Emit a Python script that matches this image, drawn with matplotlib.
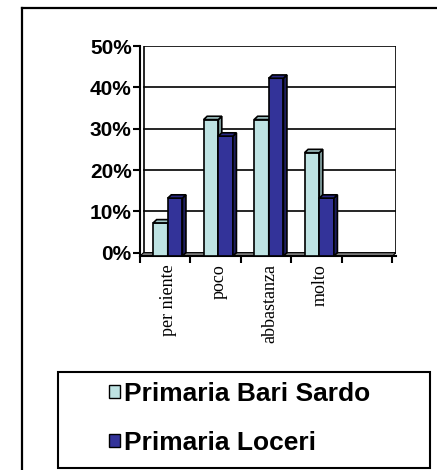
import numpy as np
import matplotlib
matplotlib.use('Agg')
import matplotlib.pyplot as plt
from matplotlib.patches import Polygon, Rectangle, Patch
from matplotlib.lines import Line2D

# dati
categorie = ['per niente', 'poco', 'abbastanza', 'molto', '']
bari_sardo = [0.08, 0.33, 0.33, 0.25, 0.0]
loceri = [0.14, 0.29, 0.43, 0.14, 0.0]
serie = ['Primaria Bari Sardo', 'Primaria Loceri']
y_ticks = [0.0, 0.1, 0.2, 0.3, 0.4, 0.5]

col_front = ['#BEE3E3', '#333399']
col_side = ['#7E9B9B', '#1E1E5E']
col_top = ['#A4C8C8', '#2A2A85']

# profondita' finta 3D
dx = 0.07
dy = 0.008
w = 0.29

fig = plt.figure(figsize=(4.37, 4.70), dpi=100)
ax = fig.add_axes([140/437, 1-256/470, 256/437, 210/470])

# parete di fondo e griglia
ax.add_patch(Rectangle((-0.5, 0), 5, 0.5, fill=False, ec='black', lw=1.2, zorder=1))
for t in y_ticks[1:-1]:
    ax.plot([-0.5, 4.5], [t, t], color='black', lw=1.2, zorder=1)
# pavimento
ax.add_patch(Polygon([(-0.5-dx, -dy), (4.5-dx, -dy), (4.5, 0), (-0.5, 0)],
                     closed=True, fc='#808080', ec='black', lw=0.8, zorder=2))

x = np.arange(len(categorie))
offs = [-0.31, -0.02]
for k, vals in enumerate([bari_sardo, loceri]):
    for i, v in enumerate(vals):
        if v <= 0:
            continue
        x0 = x[i] + offs[k]
        ax.bar(x0, v, width=w, bottom=-dy, align='edge', color=col_front[k],
               edgecolor='black', linewidth=1.2, zorder=3)
        side = [(x0+w, -dy), (x0+w+dx, 0), (x0+w+dx, v), (x0+w, v-dy)]
        top = [(x0, v-dy), (x0+dx, v), (x0+w+dx, v), (x0+w, v-dy)]
        ax.add_patch(Polygon(side, closed=True, fc=col_side[k], ec='black', lw=1.2, zorder=3))
        ax.add_patch(Polygon(top, closed=True, fc=col_top[k], ec='black', lw=1.2, zorder=3))

ax.set_xlim(-0.5-dx, 4.5)
ax.set_ylim(-dy, 0.5)
for s in ['top', 'right']:
    ax.spines[s].set_visible(False)
ax.spines['left'].set_position(('data', -0.5-dx))
ax.spines['left'].set_linewidth(1.5)
ax.spines['bottom'].set_linewidth(1.5)

ax.set_yticks(y_ticks)
ax.set_yticklabels(['%d%%' % round(t*100) for t in y_ticks],
                   fontsize=15, fontweight='bold', family='Liberation Sans')
ax.tick_params(axis='y', direction='out', length=5, width=1.5, pad=1)

ax.set_xticks(np.arange(len(categorie)+1) - 0.5 - dx)
ax.set_xticklabels([])
ax.tick_params(axis='x', which='major', direction='out', length=5, width=1.5)
ax.set_xticks(x, minor=True)
ax.set_xticklabels(categorie, minor=True, rotation=90, fontsize=13,
                   family='Liberation Serif', va='top')
ax.tick_params(axis='x', which='minor', length=0, pad=6)

# cornice esterna
fig.add_artist(Line2D([22/437, 22/437], [-0.01, 1-8/470], color='black', lw=1.6))
fig.add_artist(Line2D([22/437, 1.01], [1-8/470, 1-8/470], color='black', lw=1.6))

# legenda
fig.add_artist(Rectangle((58/437, 1-468/470), 372/437, 96/470, fill=False,
                         ec='black', lw=1.5, transform=fig.transFigure))
handles = [Patch(fc=col_front[0], ec='black', lw=1),
           Patch(fc=col_front[1], ec='black', lw=1)]
fig.legend(handles, serie, loc='upper left', bbox_to_anchor=(109/437, 1-382/470),
           frameon=False, borderpad=0, borderaxespad=0, handlelength=0.42,
           handleheight=0.42, handletextpad=0.15, labelspacing=0.95,
           prop={'family': 'Liberation Sans', 'weight': 'bold', 'size': 19})

fig.savefig('out.png', dpi=100)
